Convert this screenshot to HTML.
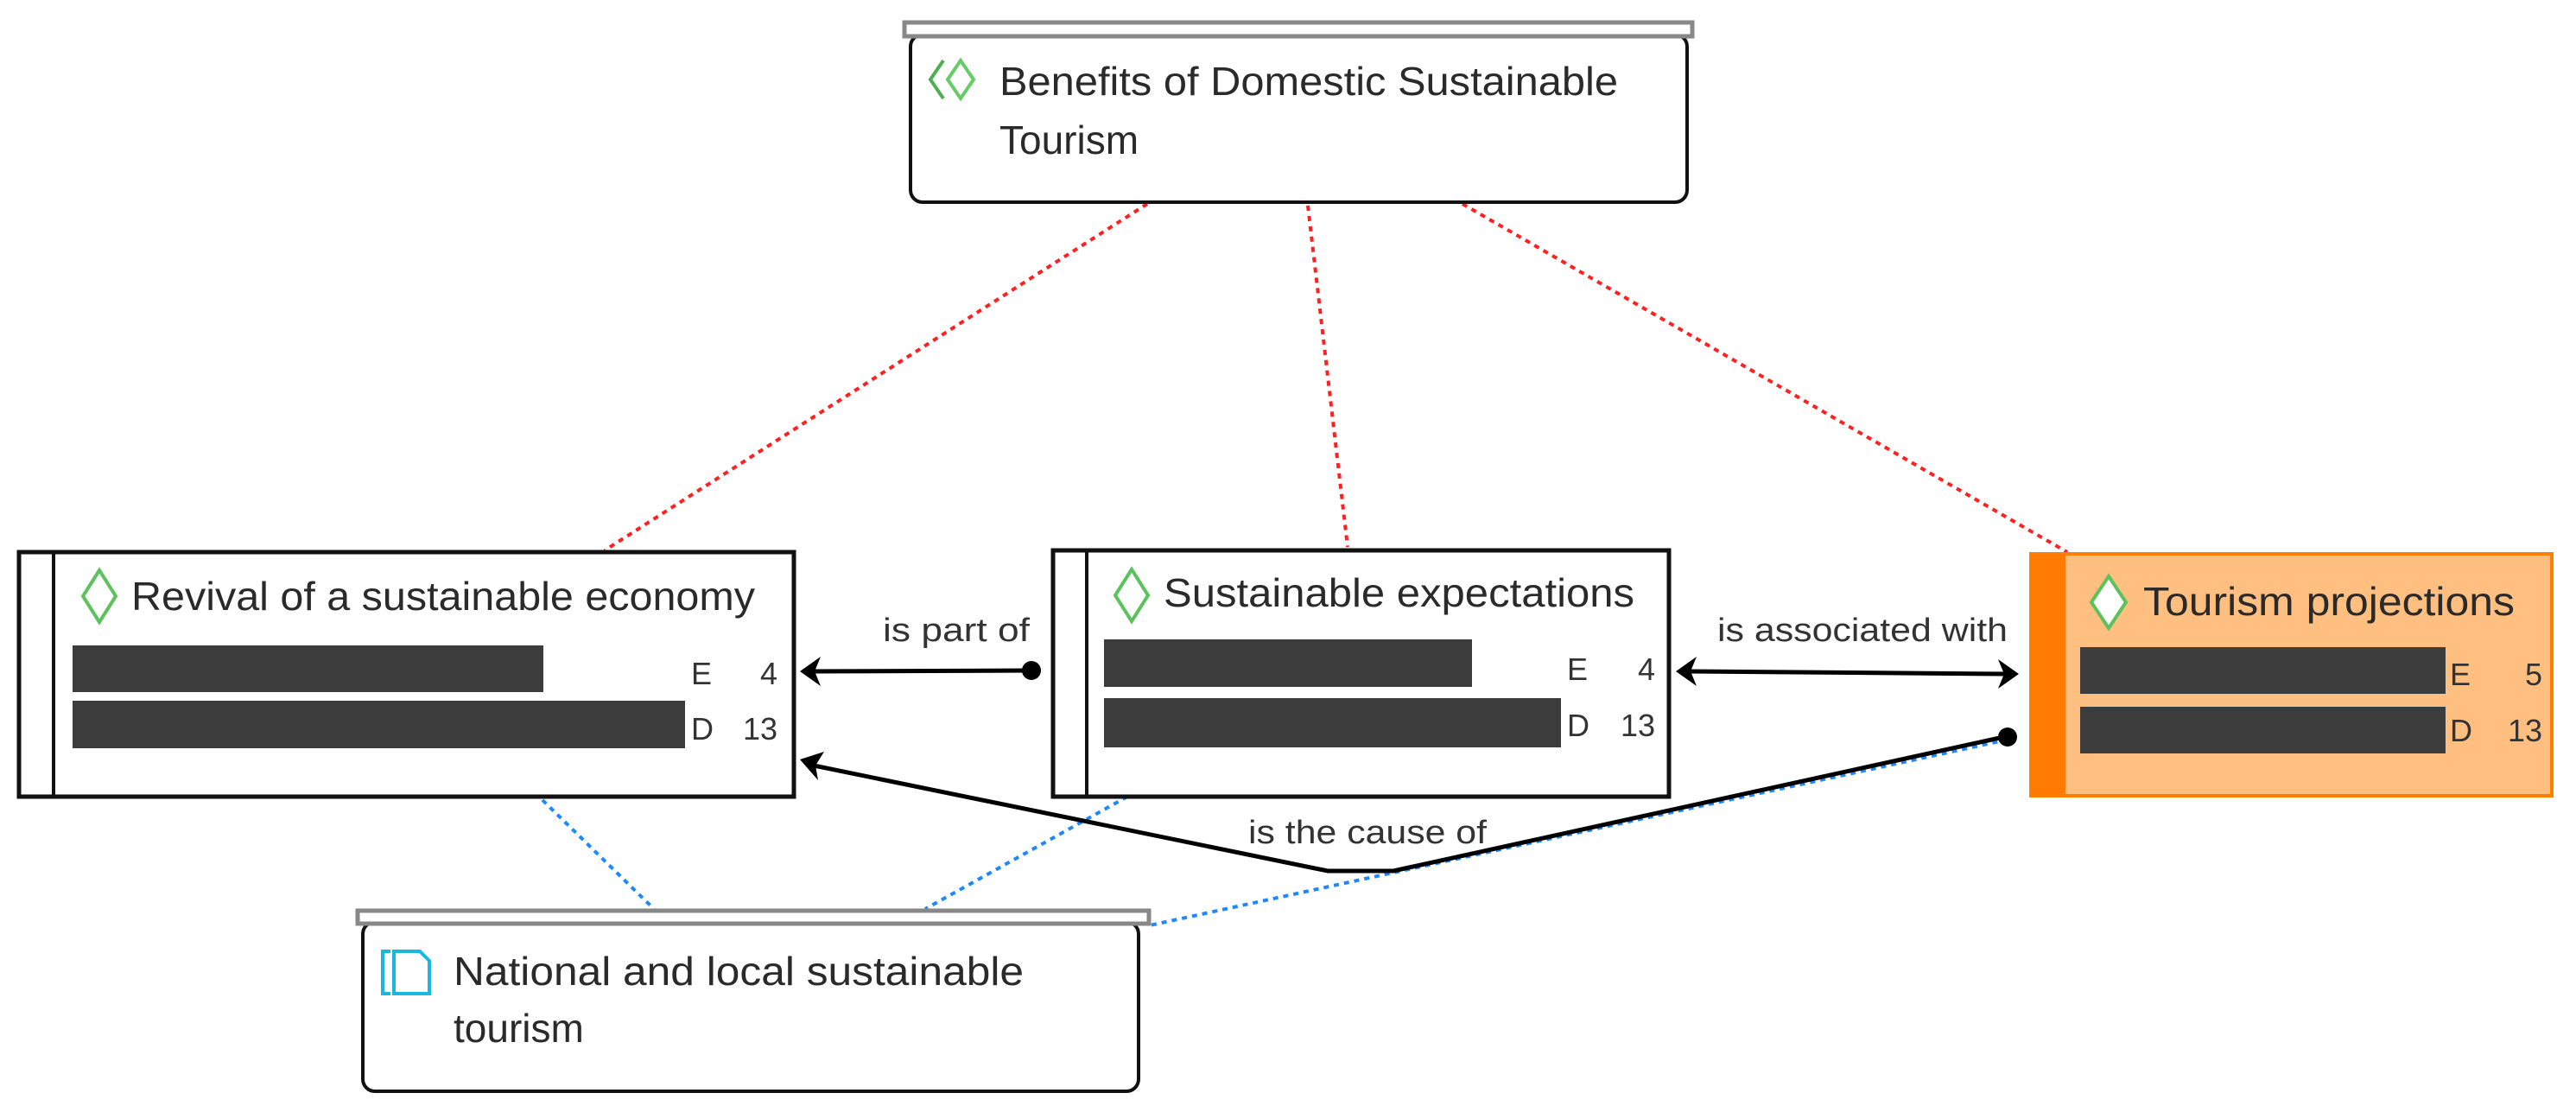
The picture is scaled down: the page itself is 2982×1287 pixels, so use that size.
<!DOCTYPE html>
<html><head><meta charset="utf-8"><style>
html,body{margin:0;padding:0;background:#fff;}
svg{display:block;}
text{font-family:"Liberation Sans",sans-serif;}
</style></head><body>
<svg width="2982" height="1287" viewBox="0 0 2982 1287" xmlns="http://www.w3.org/2000/svg">
<g stroke="#ff2020" stroke-width="4" stroke-dasharray="6,6" fill="none">
<line x1="1328" y1="236" x2="700" y2="637"/>
<line x1="1514" y1="238" x2="1560" y2="633"/>
<line x1="1693" y1="236" x2="2393" y2="639"/>
</g>
<g stroke="#1e88ff" stroke-width="4" stroke-dasharray="6,6" fill="none">
<line x1="628" y1="926" x2="757" y2="1052"/>
<line x1="1305" y1="922" x2="1071" y2="1052"/>
<line x1="2324" y1="856" x2="1331" y2="1071"/>
</g>

<rect x="1054" y="40" width="899" height="194" rx="14" fill="#fff" stroke="#111" stroke-width="4"/>
<rect x="1047" y="26" width="912" height="16" fill="#fff" stroke="#888" stroke-width="5"/>
<polyline points="1092,70 1077,92 1092,114" fill="none" stroke="#4caf50" stroke-width="4"/>
<polygon points="1112,70 1097,92 1112,114 1127,92" fill="none" stroke="#66cc66" stroke-width="4"/>
<text x="1157" y="110" font-size="46" fill="#2a2a2a" textLength="716" lengthAdjust="spacingAndGlyphs">Benefits of Domestic Sustainable</text>
<text x="1157" y="178" font-size="46" fill="#2a2a2a">Tourism</text>

<rect x="22" y="639" width="897" height="283" fill="#fff" stroke="#111" stroke-width="5"/>
<line x1="62" y1="639" x2="62" y2="922" stroke="#111" stroke-width="4"/>
<polygon points="115,660 96,690 115,720 134,690" fill="none" stroke="#5cc25c" stroke-width="4"/>
<text x="152" y="706" font-size="46" fill="#2a2a2a" textLength="722" lengthAdjust="spacingAndGlyphs">Revival of a sustainable economy</text>
<rect x="84" y="747" width="545" height="54" fill="#3c3c3c"/>
<rect x="84" y="811" width="709" height="55" fill="#3c3c3c"/>
<text x="800" y="792" font-size="36" fill="#333">E</text>
<text x="900" y="792" font-size="36" fill="#333" text-anchor="end">4</text>
<text x="800" y="856" font-size="36" fill="#333">D</text>
<text x="900" y="856" font-size="36" fill="#333" text-anchor="end">13</text>

<rect x="1219" y="637" width="713" height="285" fill="#fff" stroke="#111" stroke-width="5"/>
<line x1="1258" y1="637" x2="1258" y2="922" stroke="#111" stroke-width="4"/>
<polygon points="1310,659 1291,689 1310,719 1329,689" fill="none" stroke="#5cc25c" stroke-width="4"/>
<text x="1347" y="702" font-size="46" fill="#2a2a2a" textLength="545" lengthAdjust="spacingAndGlyphs">Sustainable expectations</text>
<rect x="1278" y="740" width="426" height="55" fill="#3c3c3c"/>
<rect x="1278" y="808" width="529" height="57" fill="#3c3c3c"/>
<text x="1814" y="787" font-size="36" fill="#333">E</text>
<text x="1916" y="787" font-size="36" fill="#333" text-anchor="end">4</text>
<text x="1814" y="852" font-size="36" fill="#333">D</text>
<text x="1916" y="852" font-size="36" fill="#333" text-anchor="end">13</text>

<rect x="2351" y="641" width="603" height="280" fill="#ffbf80" stroke="#ff8000" stroke-width="4"/>
<rect x="2351" y="641" width="40" height="280" fill="#ff7a00"/>
<polygon points="2441,667 2421,697 2441,727 2461,697" fill="#fff" stroke="#5cc25c" stroke-width="4"/>
<text x="2481" y="712" font-size="46" fill="#2a2a2a" textLength="430" lengthAdjust="spacingAndGlyphs">Tourism projections</text>
<rect x="2408" y="749" width="423" height="54" fill="#3c3c3c"/>
<rect x="2408" y="818" width="423" height="54" fill="#3c3c3c"/>
<text x="2836" y="793" font-size="36" fill="#333">E</text>
<text x="2943" y="793" font-size="36" fill="#333" text-anchor="end">5</text>
<text x="2836" y="858" font-size="36" fill="#333">D</text>
<text x="2943" y="858" font-size="36" fill="#333" text-anchor="end">13</text>

<rect x="420" y="1067" width="898" height="196" rx="14" fill="#fff" stroke="#111" stroke-width="4"/>
<rect x="414" y="1054" width="916" height="15" fill="#fff" stroke="#888" stroke-width="5"/>
<g fill="none" stroke="#1ab8e0" stroke-width="4">
<polyline points="452,1101 443,1101 443,1150 452,1150"/>
<path d="M456,1101 H486 L497,1112 V1150 H456 Z"/>
</g>
<text x="525" y="1140" font-size="46" fill="#2a2a2a" textLength="660" lengthAdjust="spacingAndGlyphs">National and local sustainable</text>
<text x="525" y="1206" font-size="46" fill="#2a2a2a">tourism</text>

<g stroke="#000" stroke-width="5" fill="none">
<line x1="1194" y1="776" x2="940" y2="777"/>
<line x1="1955" y1="777" x2="2322" y2="780"/>
<polyline points="2324,852 1613,1008 1537,1008 942,886"/>
</g>
<circle cx="1194" cy="776" r="11" fill="#000"/>
<circle cx="2324" cy="853" r="11" fill="#000"/>
<polygon points="926,777 950,760 943,777 950,794" fill="#000"/>
<polygon points="1940,777 1964,760 1957,777 1964,794" fill="#000"/>
<polygon points="2337,780 2313,763 2320,780 2313,797" fill="#000"/>
<polygon points="926,879 954,870 944,886 947,903" fill="#000"/>
<text x="1022" y="742" font-size="38" fill="#333" textLength="170" lengthAdjust="spacingAndGlyphs">is part of</text>
<text x="1988" y="742" font-size="38" fill="#333" textLength="336" lengthAdjust="spacingAndGlyphs">is associated with</text>
<text x="1445" y="976" font-size="38" fill="#333" textLength="276" lengthAdjust="spacingAndGlyphs">is the cause of</text>
</svg>
</body></html>
